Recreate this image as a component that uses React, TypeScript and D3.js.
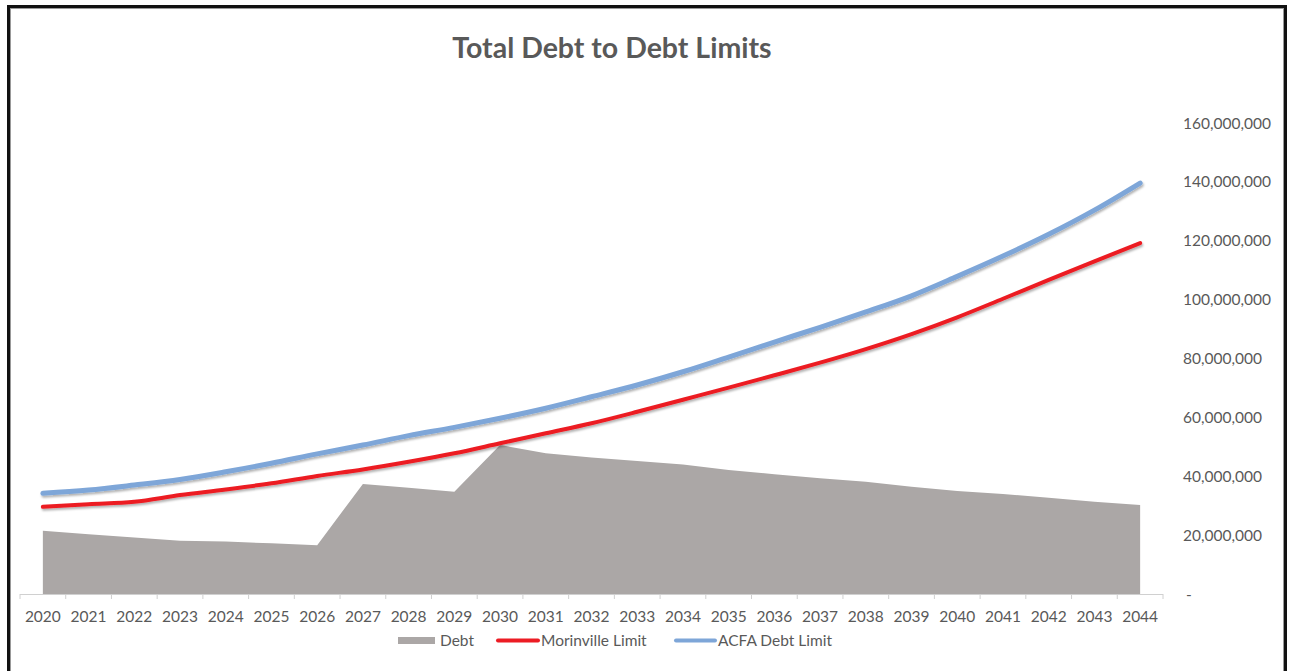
import React from "react";
import * as d3 from "d3";

const years: string[] = [
  "2020","2021","2022","2023","2024","2025","2026","2027","2028","2029","2030","2031",
  "2032","2033","2034","2035","2036","2037","2038","2039","2040","2041","2042","2043","2044",
];
const debt: number[] = [
  21.5, 20.3, 19.2, 18.1, 17.8, 17.2, 16.6, 37.4, 36.1, 34.7, 50.6, 47.8,
  46.4, 45.2, 44.0, 42.1, 40.7, 39.3, 38.1, 36.4, 35.0, 34.0, 32.7, 31.3, 30.2,
].map((v) => v * 1e6);
const morinvilleLimit: number[] = [
  29.6, 30.5, 31.3, 33.6, 35.5, 37.6, 40.1, 42.3, 44.9, 47.8, 51.2, 54.6,
  58.0, 61.9, 66.0, 70.1, 74.3, 78.6, 83.2, 88.3, 94.0, 100.3, 106.7, 113.0, 119.2,
].map((v) => v * 1e6);
const acfaLimit: number[] = [
  34.2, 35.3, 37.0, 38.9, 41.5, 44.4, 47.6, 50.6, 53.8, 56.6, 59.7, 63.1,
  67.0, 71.0, 75.5, 80.5, 85.6, 90.6, 95.8, 101.3, 107.9, 114.8, 122.2, 130.4, 139.6,
].map((v) => v * 1e6);
const yTicks: number[] = [0, 20e6, 40e6, 60e6, 80e6, 100e6, 120e6, 140e6, 160e6];
const title = "Total Debt to Debt Limits";
const seriesNames = ["Debt", "Morinville Limit", "ACFA Debt Limit"];

const W = 1291;
const H = 671;
const FONT = "Lato, Calibri, 'Open Sans', sans-serif";
const TEXT = "#595959";
const GRAY = "#aba7a6";
const RED = "#ec1c24";
const BLUE = "#7ea6d8";
const FS = 15.5;

export default function App() {
  const x = d3.scaleBand<string>().domain(years).range([20, 1163]);
  const bw = x.bandwidth();
  const cx = (yr: string) => (x(yr) as number) + bw / 2;
  const y = d3.scaleLinear().domain([0, 160e6]).range([594, 123]);

  const area = d3
    .area<number>()
    .x((_, i) => cx(years[i]))
    .y0(y(0))
    .y1((d) => y(d));
  const line = d3
    .line<number>()
    .x((_, i) => cx(years[i]))
    .y((d) => y(d))
    .curve(d3.curveMonotoneX);

  const fmt = d3.format(",");
  const boundaries = years.map((yr) => x(yr) as number).concat([1163]);

  return (
    <svg
      width={W}
      height={H}
      style={{ position: "absolute", left: 0, top: 0, background: "#fff" }}
      fontFamily={FONT}
    >
      <defs>
        <filter id="shadow" x="-5%" y="-20%" width="110%" height="140%">
          <feDropShadow dx="1" dy="2" stdDeviation="1.2" floodColor="#000" floodOpacity="0.3" />
        </filter>
      </defs>
      <rect x={0} y={0} width={W} height={H} fill="#fff" />
      <rect x={8.5} y={6.5} width={1277} height={700} fill="none" stroke="#111" strokeWidth={3} />
      <rect x={10.5} y={8.5} width={1273} height={700} fill="none" stroke="#999" strokeWidth={1} />

      <text x={612} y={58} textAnchor="middle" fontSize={28.5} fontWeight="bold" fill={TEXT}>
        {title}
      </text>

      {/* area */}
      <path d={area(debt) || ""} fill={GRAY} />

      {/* x axis */}
      <line x1={20} x2={1163} y1={594.5} y2={594.5} stroke="#d0d0d0" strokeWidth={1} />
      {boundaries.map((bx, i) => (
        <line key={i} x1={bx} x2={bx} y1={594} y2={599} stroke="#d0d0d0" strokeWidth={1} />
      ))}
      {years.map((yr) => (
        <text key={yr} x={cx(yr)} y={622} textAnchor="middle" fontSize={FS} fill={TEXT}>
          {yr}
        </text>
      ))}

      {/* y axis labels */}
      {yTicks.map((t) => (
        <text key={t} x={t === 0 ? 1186 : 1183} y={y(t) + 5.5} textAnchor="start" fontSize={FS} fill={TEXT}>
          {t === 0 ? "-" : fmt(t)}
        </text>
      ))}

      {/* lines */}
      <path d={line(morinvilleLimit) || ""} fill="none" stroke={RED} strokeWidth={4} strokeLinecap="round" filter="url(#shadow)" />
      <path d={line(acfaLimit) || ""} fill="none" stroke={BLUE} strokeWidth={5} strokeLinecap="round" filter="url(#shadow)" />

      {/* legend */}
      <rect x={398} y={637} width={37} height={7} fill={GRAY} />
      <text x={440} y={646} fontSize={FS} fill={TEXT}>{seriesNames[0]}</text>
      <line x1={498} x2={538} y1={640.5} y2={640.5} stroke={RED} strokeWidth={4} strokeLinecap="round" />
      <text x={541} y={646} fontSize={FS} fill={TEXT}>{seriesNames[1]}</text>
      <line x1={676} x2={715} y1={640.5} y2={640.5} stroke={BLUE} strokeWidth={4} strokeLinecap="round" />
      <text x={718} y={646} fontSize={FS} fill={TEXT}>{seriesNames[2]}</text>
    </svg>
  );
}
